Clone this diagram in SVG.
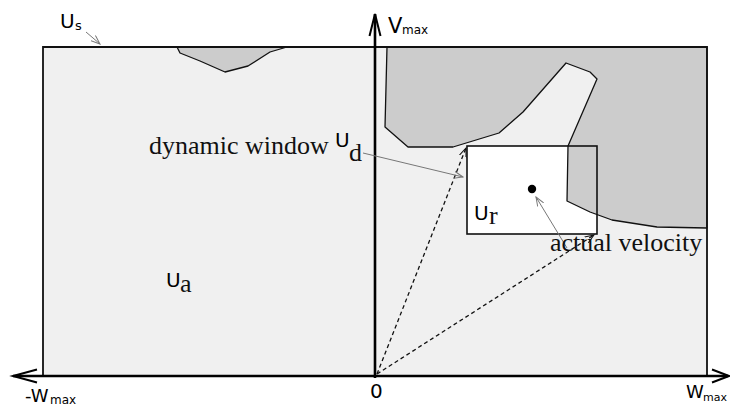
<svg xmlns="http://www.w3.org/2000/svg" width="730" height="406" viewBox="0 0 730 406">
<style>
.sans{font-family:"DejaVu Sans","Liberation Sans",sans-serif;fill:#000}
.serif{font-family:"Liberation Serif","DejaVu Serif",serif;fill:#111}
.obst{fill:#cccccc;stroke:#111;stroke-width:1.3;stroke-linejoin:round}
.axis{stroke:#000;stroke-width:2.6;fill:none}
.ptr{stroke:#777;stroke-width:1;fill:none}
.dash{stroke:#111;stroke-width:1.3;stroke-dasharray:4 3;fill:none}
</style>
<defs>
<marker id="gArrow" markerWidth="10" markerHeight="8" refX="9" refY="4" orient="auto" markerUnits="userSpaceOnUse">
<path d="M0,0.5 L9,4 L0,7.5" fill="none" stroke="#777" stroke-width="1"/>
</marker>
<marker id="kArrow" markerWidth="10" markerHeight="8" refX="9" refY="4" orient="auto" markerUnits="userSpaceOnUse">
<path d="M0,0.5 L9,4 L0,7.5" fill="none" stroke="#111" stroke-width="1"/>
</marker>
</defs>
<rect width="730" height="406" fill="#fff"/>
<g id="region-us">
<rect x="43" y="47" width="664" height="329" fill="#f0f0f0"/>
</g>
<g id="window-ud-fill">
<rect x="467" y="146" width="130" height="88" fill="#fff"/>
</g>
<g id="obstacle-left">
<polygon class="obst" points="177,47 180,53 200,61 225,72 248,66 270,52 287,47"/>
</g>
<g id="obstacle-right">
<polygon class="obst" points="387,47 385,127 408,147 453,147 499,133 523,112 566,63 590,72 597,79 568,146 567,201 590,212 612,220 657,227 707,228 707,47"/>
</g>
<g id="window-ud">
<rect x="467" y="146" width="130" height="88" fill="none" stroke="#111" stroke-width="1.6"/>
<circle cx="532" cy="189" r="4.2" fill="#000"/>
</g>
<g id="region-border">
<polyline points="43,376 43,47 707,47 707,376" fill="none" stroke="#111" stroke-width="1.8"/>
</g>
<g id="connectors">
<line class="axis" x1="375" y1="378" x2="375" y2="14"/>
<polyline points="369.5,36 375,14 380.5,36" fill="none" stroke="#000" stroke-width="2"/>
<line class="axis" x1="13" y1="376" x2="728" y2="376"/>
<polyline points="37,369.5 13,376 37,382.5" fill="none" stroke="#000" stroke-width="2"/>
<polyline points="712,369.5 729,376 712,382.5" fill="none" stroke="#000" stroke-width="2"/>
<line class="dash" x1="377" y1="374" x2="466" y2="148" marker-end="url(#kArrow)"/>
<line class="dash" x1="377" y1="374" x2="594" y2="235" marker-end="url(#kArrow)"/>
<line class="ptr" x1="86" y1="32" x2="100" y2="44" marker-end="url(#gArrow)"/>
<line class="ptr" x1="363" y1="153" x2="463" y2="177" marker-end="url(#gArrow)"/>
<line class="ptr" x1="567" y1="248" x2="536" y2="197" marker-end="url(#gArrow)"/>
</g>
<g id="labels">
<text class="sans" x="60" y="28" font-size="20">U</text>
<text class="sans" x="75" y="30" font-size="13">s</text>
<text class="sans" x="166" y="287" font-size="20">U</text>
<text class="serif" x="180" y="292" font-size="26">a</text>
<text class="sans" x="335" y="147" font-size="20">U</text>
<text class="serif" x="349" y="161" font-size="26">d</text>
<text class="sans" x="474" y="220" font-size="20">U</text>
<text class="serif" x="489" y="224" font-size="26">r</text>
<text class="serif" x="149" y="154" font-size="26">dynamic window</text>
<text class="serif" x="550" y="251" font-size="26">actual velocity</text>
<text class="sans" x="388" y="33" font-size="21">V</text>
<text class="sans" x="402" y="34" font-size="12">max</text>
<text class="sans" x="25" y="402" font-size="18">-W</text>
<text class="sans" x="50" y="404" font-size="12">max</text>
<text class="sans" x="686" y="398" font-size="18">W</text>
<text class="sans" x="703" y="401" font-size="11">max</text>
<text class="sans" x="370" y="398" font-size="20">0</text>
</g>
</svg>
